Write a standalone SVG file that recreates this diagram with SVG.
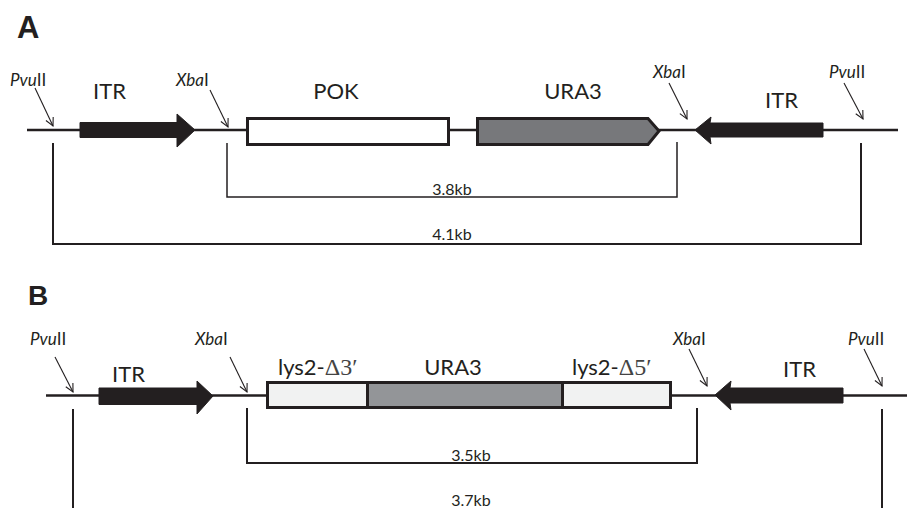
<svg xmlns="http://www.w3.org/2000/svg" width="908" height="508" viewBox="0 0 908 508">
<defs>
<style>
.t{font-family:Lato,"Open Sans","Liberation Sans",sans-serif;fill:#231f20}
.lab{font-size:22px}
.site{font-size:17px}
.kb{font-size:16px;text-anchor:middle}
.pl{font-family:"Liberation Sans",Arial,sans-serif;font-weight:bold;fill:#231f20}
.ser{font-family:"Liberation Serif","Times New Roman",serif;fill:#444}
.bb{fill:none;stroke:#231f20;stroke-width:2.5}
.br{fill:none;stroke:#231f20}
.arr{fill:none;stroke:#231f20;stroke-width:1.1;marker-end:url(#v)}
.itr{fill:#231f20;stroke:#231f20;stroke-width:1;stroke-linejoin:round}
.box{stroke:#231f20;stroke-width:3}
</style>
<marker id="v" viewBox="0 0 10 10" refX="9" refY="5" markerWidth="10" markerHeight="10" markerUnits="userSpaceOnUse" orient="auto">
<path d="M1,1 L9,5 L1,9" fill="none" stroke="#231f20" stroke-width="1.1"/>
</marker>
</defs>

<text class="pl" x="17" y="38" font-size="31">A</text>
<text class="pl" x="28" y="305" font-size="28">B</text>

<g id="backbones">
<line class="bb" x1="27" y1="130" x2="898" y2="130"/>
<line class="bb" x1="46" y1="395.5" x2="907" y2="395.5"/>
</g>

<g id="connectors">
<path class="br" stroke-width="1.5" d="M227,143 V197 H677 V142"/>
<path class="br" stroke-width="2" d="M53,143 V244 H861 V143"/>
<path class="br" stroke-width="2" d="M247,408 V463 H697 V408"/>
<path class="br" stroke-width="2" d="M73,409 V508 M882,409 V508"/>
<line class="arr" x1="35" y1="88" x2="53" y2="126"/>
<line class="arr" x1="210" y1="90" x2="228" y2="127"/>
<line class="arr" x1="669" y1="83" x2="687" y2="119"/>
<line class="arr" x1="844" y1="83" x2="863" y2="119"/>
<line class="arr" x1="55" y1="357" x2="73" y2="392"/>
<line class="arr" x1="230" y1="357" x2="247" y2="392"/>
<line class="arr" x1="689" y1="349" x2="707" y2="386"/>
<line class="arr" x1="864" y1="349" x2="882" y2="386"/>
</g>

<g id="A-pvu-left"><text class="t site" x="10" y="86"><tspan font-style="italic">Pvu</tspan>II</text></g>
<g id="A-itr-left">
<polygon class="itr" points="80,122.5 177,122.5 177,114 195,130 177,147 177,137.5 80,137.5"/>
<text class="t lab" x="93" y="99" font-size="23">ITR</text>
</g>
<g id="A-xba-left"><text class="t site" x="176" y="86"><tspan font-style="italic">Xba</tspan>I</text></g>
<g id="A-pok">
<rect class="box" x="247.5" y="118.5" width="201" height="26" fill="#fff"/>
<text class="t lab" x="336" y="99" text-anchor="middle">POK</text>
</g>
<g id="A-ura3">
<polygon class="box" points="477.5,118.5 648,118.5 659,131 648,144.5 477.5,144.5" fill="#77787b" stroke-linejoin="miter"/>
<text class="t lab" x="573" y="99" text-anchor="middle">URA3</text>
</g>
<g id="A-xba-right"><text class="t site" x="653" y="78"><tspan font-style="italic">Xba</tspan>I</text></g>
<g id="A-itr-right">
<polygon class="itr" points="695,130 711,117 710,123 823,123 823,137 710,137 711,144"/>
<text class="t lab" x="765" y="108" font-size="23">ITR</text>
</g>
<g id="A-pvu-right"><text class="t site" x="829" y="78"><tspan font-style="italic">Pvu</tspan>II</text></g>

<text class="t kb" x="452" y="195">3.8kb</text>
<text class="t kb" x="452" y="240">4.1kb</text>

<g id="B-pvu-left"><text class="t site" x="30" y="345"><tspan font-style="italic">Pvu</tspan>II</text></g>
<g id="B-itr-left">
<polygon class="itr" points="99,388 197,388 197,381 213,396 197,414 197,404.5 99,404.5"/>
<text class="t lab" x="112" y="382" font-size="23">ITR</text>
</g>
<g id="B-xba-left"><text class="t site" x="195" y="345"><tspan font-style="italic">Xba</tspan>I</text></g>
<g id="B-lys2-3">
<rect class="box" x="267.5" y="382.5" width="100" height="25" fill="#f1f2f2"/>
<text class="t lab" x="278" y="375" font-size="21">lys2-<tspan class="ser" font-size="24">Δ3′</tspan></text>
</g>
<g id="B-ura3">
<rect class="box" x="367.5" y="382.5" width="195" height="25" fill="#939598"/>
<text class="t lab" x="453" y="375" text-anchor="middle" font-size="21">URA3</text>
</g>
<g id="B-lys2-5">
<rect class="box" x="562.5" y="382.5" width="108" height="25" fill="#f1f2f2"/>
<text class="t lab" x="572" y="375" font-size="21">lys2-<tspan class="ser" font-size="24">Δ5′</tspan></text>
</g>
<g id="B-xba-right"><text class="t site" x="673" y="345"><tspan font-style="italic">Xba</tspan>I</text></g>
<g id="B-itr-right">
<polygon class="itr" points="715,395 731,381 730,388 843,388 843,403 730,403 731,410"/>
<text class="t lab" x="783" y="377" font-size="23">ITR</text>
</g>
<g id="B-pvu-right"><text class="t site" x="848" y="345"><tspan font-style="italic">Pvu</tspan>II</text></g>

<text class="t kb" x="471" y="461">3.5kb</text>
<text class="t kb" x="471" y="506">3.7kb</text>
</svg>
